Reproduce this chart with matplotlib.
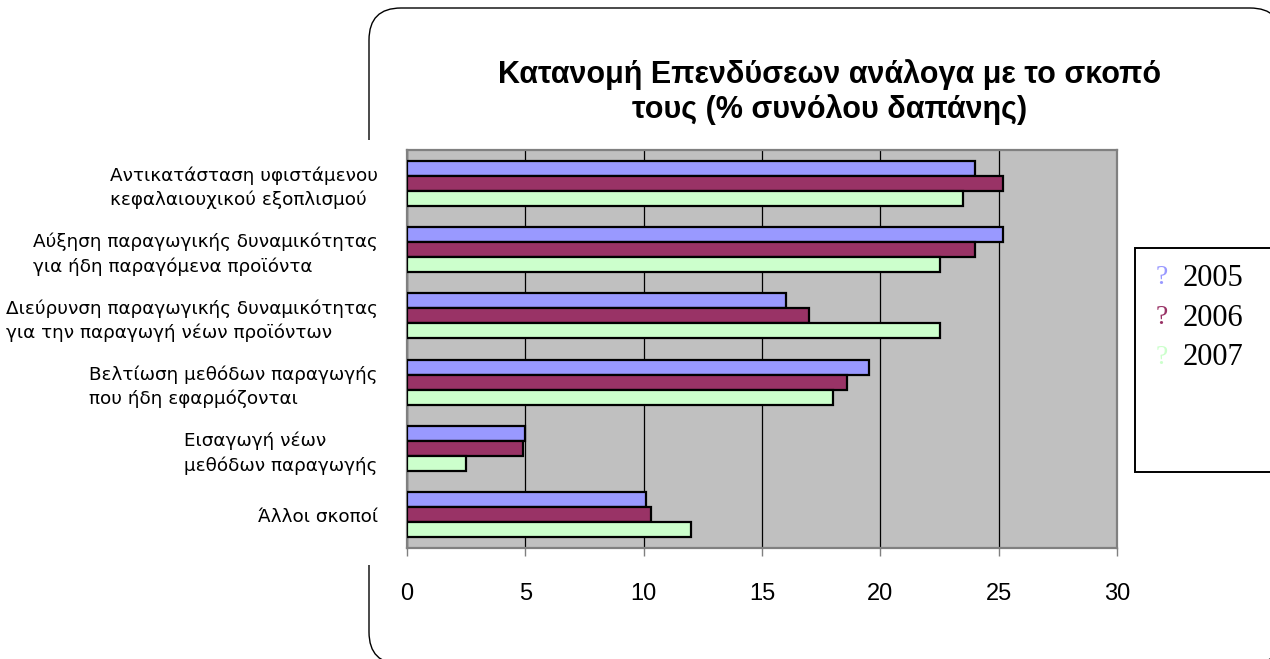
import matplotlib.pyplot as plt
import numpy as np
from matplotlib.path import Path
from matplotlib.patches import PathPatch, Rectangle
from matplotlib.transforms import IdentityTransform

categories = ['Αντικατάσταση υφιστάμενου\nκεφαλαιουχικού εξοπλισμού',
              'Αύξηση παραγωγικής δυναμικότητας\nγια ήδη παραγόμενα προϊόντα',
              'Διεύρυνση παραγωγικής δυναμικότητας\nγια την παραγωγή νέων προϊόντων',
              'Βελτίωση μεθόδων παραγωγής\nπου ήδη εφαρμόζονται',
              'Εισαγωγή νέων\nμεθόδων παραγωγής',
              'Άλλοι σκοποί']
years = ['2005', '2006', '2007']
v2005 = [24.0, 25.2, 16.0, 19.5, 5.0, 10.1]
v2006 = [25.2, 24.0, 17.0, 18.6, 4.9, 10.3]
v2007 = [23.5, 22.5, 22.5, 18.0, 2.5, 12.0]
colors = ['#9999FF', '#993366', '#CCFFCC']
xticks = [0, 5, 10, 15, 20, 25, 30]

W, H = 1270, 659
fig = plt.figure(figsize=(W / 100, H / 100), dpi=100)

# rounded frame around the chart (pixel coords, origin bottom-left)
def rounded(x0, y0, x1, y1, r):
    verts = [(x0 + r, y0), (x1 - r, y0), (x1, y0), (x1, y0 + r),
             (x1, y1 - r), (x1, y1), (x1 - r, y1),
             (x0 + r, y1), (x0, y1), (x0, y1 - r),
             (x0, y0 + r), (x0, y0), (x0 + r, y0)]
    codes = [Path.MOVETO, Path.LINETO, Path.CURVE3, Path.CURVE3,
             Path.LINETO, Path.CURVE3, Path.CURVE3,
             Path.LINETO, Path.CURVE3, Path.CURVE3,
             Path.LINETO, Path.CURVE3, Path.CURVE3]
    return Path(verts, codes)

frame = PathPatch(rounded(369, H - 664, 1282, H - 8, 32), facecolor='white',
                  edgecolor='black', lw=1.0, transform=IdentityTransform(), zorder=0)
fig.patches.append(frame)
# break in frame where the category labels sit
fig.patches.append(Rectangle((360, H - 565), 20, 425, facecolor='white', edgecolor='none',
                             transform=IdentityTransform(), zorder=1))

ax = fig.add_axes([407 / W, 1 - 548 / H, 710 / W, 398 / H])
ax.set_zorder(5)
ax.set_facecolor('#C0C0C0')

y = np.arange(len(categories))
h = 0.226
for i, (vals, c) in enumerate(zip([v2005, v2006, v2007], colors)):
    ax.barh(y + (i - 1) * h, vals, height=h, color=c, edgecolor='black',
            linewidth=1.6, zorder=3, label=years[i])

ax.set_xlim(0, 30)
ax.set_ylim(len(categories) - 0.5, -0.5)
ax.set_xticks(xticks)
ax.set_xticklabels([str(t) for t in xticks], fontsize=17, family='Liberation Sans')
ax.set_yticks(y)
ax.set_yticklabels(categories, fontsize=13.2, family='DejaVu Sans')
ax.tick_params(axis='y', length=0, pad=21)
ax.tick_params(axis='x', length=6, width=1, color='#808080', pad=19)
for t in ax.get_yticklabels():
    t.set_multialignment('left')
    t.set_linespacing(1.4)
ax.grid(axis='x', color='black', linewidth=0.9, zorder=1)
for s in ax.spines.values():
    s.set_color('#808080')
    s.set_linewidth(1.6)

fig.text(830 / W, 1 - 92 / H, 'Κατανομή Επενδύσεων ανάλογα με το σκοπό\nτους (% συνόλου δαπάνης)',
         ha='center', va='center', fontsize=22, fontweight='bold',
         family='Liberation Sans', linespacing=1.15)

# legend box
fig.patches.append(Rectangle((1135, H - 472), 140, 224, facecolor='white', edgecolor='black',
                             lw=1.4, transform=IdentityTransform(), zorder=2))
for i, (yr, c) in enumerate(zip(years, colors)):
    yy = 1 - (278 + i * 40) / H
    fig.text(1162 / W, yy, '?', color=c, fontsize=20, family='Liberation Serif',
             ha='center', va='center', zorder=3)
    fig.text(1183 / W, yy, yr, color='black', fontsize=22, family='Liberation Serif',
             ha='left', va='center', zorder=3)

fig.savefig('out.png', dpi=100)
